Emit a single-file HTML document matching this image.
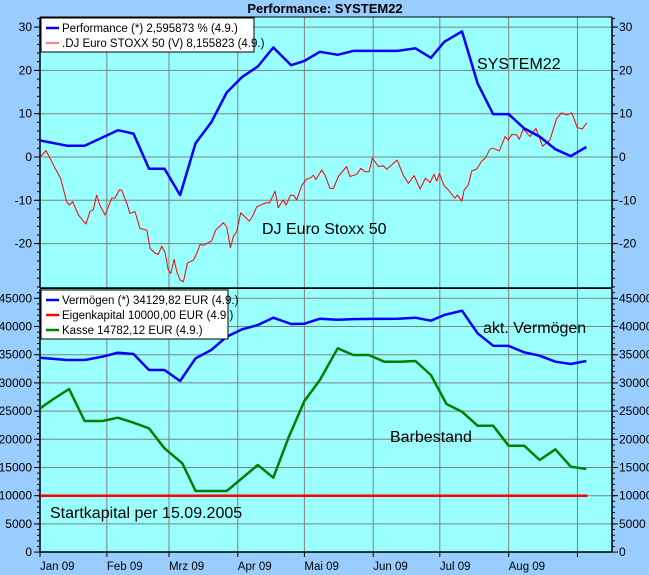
<!DOCTYPE html>
<html><head><meta charset="utf-8"><style>
html,body{margin:0;padding:0;background:#99ccff;}
svg{display:block;font-family:"Liberation Sans",Arial,sans-serif;}
</style></head><body>
<svg id="chart" width="649" height="575" viewBox="0 0 649 575" xmlns="http://www.w3.org/2000/svg">
<rect x="0" y="0" width="649" height="575" fill="#99ccff"/>
<text x="325" y="13" text-anchor="middle" font-size="13" font-weight="bold">Performance: SYSTEM22</text>
<g id="topPanel"></g>
<g id="botPanel"></g>
</svg>
<script>
const monthLabels=["Jan 09","Feb 09","Mrz 09","Apr 09","Mai 09","Jun 09","Jul 09","Aug 09"];
const monthDays=[0,31,59,90,120,151,181,212,243];
const perfDays=[1,13,21,29,36,43,50,57,64,71,78,85,92,99,106,114,120,127,135,142,151,162,170,177,183,191,198,205,212,219,226,233,240,247];
const perfValues=[3.8,2.6,2.6,4.5,6.2,5.4,-2.7,-2.7,-8.8,3.2,8,14.9,18.5,20.9,25.3,21.2,22.2,24.3,23.6,24.5,24.5,24.5,25.1,22.9,26.6,29,17,9.9,9.9,6.6,4.7,1.8,0.2,2.3];
const stoxxDays=[0.9,3.6,6.2,7.7,10.2,12.9,14.1,15.6,18.2,21.6,23.4,24.9,26.4,27.9,30.2,33.2,34.7,36.6,37.7,40,41.4,43.7,45.9,49,50.5,52.7,54.2,55.7,57.2,58.7,59.8,61.3,62.5,64,65.5,67.3,70,71.2,73,74.5,78.2,80,83.5,85,86.6,88,89.5,91.3,93.2,95.2,96.7,98.5,103,104.2,106.8,108.2,110.5,111.7,113.8,115.3,116.5,118.8,121,122.8,124,125.2,127.8,129.3,131.5,133,135.3,139,140.5,143.6,145.4,147.3,149.2,150.6,153.3,155.5,157.1,161.8,164.5,166.8,169.4,172.1,174.5,176.6,178.4,179.6,180.8,182.9,184.8,187.8,188.9,190.9,192,193.8,195.4,197.6,199.9,201.4,203.6,205.1,207.8,210.4,211.8,213.4,215.6,216.8,218.6,221.6,224.3,227.3,230.6,233.6,235.9,238.1,240.4,242.9,245.2,247.2];
const stoxxValues=[-0.1,1.5,-1.1,-2.6,-4.9,-10.3,-11.1,-10.3,-13.4,-15.5,-12.6,-12.2,-8.8,-11.1,-13.4,-9.5,-9.5,-7.6,-7.7,-10.7,-13,-12.6,-16.5,-16.9,-21.1,-22.2,-22.5,-20.6,-22,-26.1,-26.9,-23.6,-26.5,-28.4,-28.8,-24.5,-23.8,-22.6,-20.2,-20.4,-19.4,-16.9,-15.2,-16.1,-20.9,-18.4,-17.2,-12.9,-13.8,-14.8,-13.6,-11.5,-10.5,-10.7,-7.9,-11.7,-9.9,-11.1,-8.8,-8.9,-9.9,-6.6,-5.1,-4.8,-4.2,-5.2,-3,-4.2,-7.2,-7.3,-4.5,-2.2,-4.5,-4,-2.6,-3.4,-3.4,-0.2,-2.2,-2,-2.8,-0.7,-4.2,-6.1,-4.3,-7.4,-4.9,-5.9,-4,-5.6,-3.8,-6.6,-7.6,-9.5,-8.8,-10.2,-7.6,-6.5,-3.2,-2.8,-0.9,-0.3,1.8,2,1.4,4.7,3.9,5.2,5.1,4.1,6.5,4.7,6.6,2.5,3.9,8.9,10.2,9.7,10.2,6.8,6.5,7.9];
const vermDays=[1,13,21,29,36,43,50,57,64,71,78,85,92,99,106,114,120,127,135,142,151,162,170,177,183,191,198,205,212,219,226,233,240,247];
const vermValues=[34470,34060,34060,34640,35350,35120,32290,32290,30340,34360,35830,38190,39500,40260,41560,40440,40500,41380,41200,41320,41350,41380,41560,41030,42040,42800,38790,36600,36560,35430,34820,33760,33350,33880];
const kasseDays=[1,7,14,21,29,36,43,50,57,65,71,85,99,106,113,120,127,135,142,149,156,163,170,177,184,191,198,205,212,219,226,233,240,247];
const kasseValues=[25500,27150,28920,23250,23250,23830,22940,21950,18400,15740,10830,10830,15440,13190,20460,26790,30510,36130,34950,34950,33760,33760,33880,31400,26260,24890,22410,22410,18860,18860,16330,18230,15140,14730];
const eigenDays=[1,247.5];
const eigenValues=[10000,10000];
const topTicks=[-20,-10,0,10,20,30];
const botTicks=[0,5000,10000,15000,20000,25000,30000,35000,40000,45000];

const NS="http://www.w3.org/2000/svg";
const L=40,R=612;
function X(d){return 38+d*2.22;}
function YT(v){return 157-v*4.33;}
function YB(v){return 552.1-v*0.00564;}
function mk(tag,attrs,parent){const e=document.createElementNS(NS,tag);for(const k in attrs)e.setAttribute(k,attrs[k]);parent.appendChild(e);return e;}
const gTop=document.getElementById('topPanel'),gBot=document.getElementById('botPanel');
const svgEl=document.getElementById('chart');
const defs=mk('defs',{},svgEl);
const c1=mk('clipPath',{id:'c1'},defs);mk('rect',{x:L,y:17,width:R-L,height:271},c1);
const c2=mk('clipPath',{id:'c2'},defs);mk('rect',{x:L,y:289,width:R-L,height:263},c2);

function panel(g,y0,y1,ticks,Y,minorStep,minorMin,minorMax){
  let r=mk('rect',{x:L,y:y0,width:R-L,height:y1-y0,fill:'#99ffff'},g);
  
  
  for(let i=1;i<monthDays.length;i++){
    let l=mk('line',{x1:X(monthDays[i]),x2:X(monthDays[i]),y1:y0,y2:y1,stroke:'#808080','stroke-width':1},g);
    
    
  }
  ticks.forEach(t=>{
    const y=Y(t);
    let l=mk('line',{x1:L,x2:R,y1:y,y2:y,stroke:'#808080','stroke-width':1},g);
    
    
    mk('line',{x1:L-6,x2:L,y1:y,y2:y,stroke:'#000'},g);
    mk('line',{x1:R,x2:R+6,y1:y,y2:y,stroke:'#000'},g);
    let a=mk('text',{x:L-8,y:y+4,'text-anchor':'end','font-size':12},g);a.textContent=t;
    
    
    let b=mk('text',{x:R+7,y:y+4,'font-size':12},g);b.textContent=t;
    
    
  });
  for(let v=minorMin;v<=minorMax;v+=minorStep){
    const y=Y(v); if(y<y0||y>y1)continue;
    mk('line',{x1:L-3,x2:L,y1:y,y2:y,stroke:'#000'},g);
    mk('line',{x1:R,x2:R+3,y1:y,y2:y,stroke:'#000'},g);
  }
  mk('line',{x1:L,x2:L,y1:y0,y2:y1,stroke:'#000','stroke-width':1.5},g);
  mk('line',{x1:R,x2:R,y1:y0,y2:y1,stroke:'#000','stroke-width':1.5},g);
}
panel(gTop,17,288,topTicks,YT,2,-30,32);
panel(gBot,289,552,botTicks,YB,1000,0,47000);
mk('line',{x1:L,x2:R,y1:17,y2:17,stroke:'#000'},gTop);
mk('line',{x1:L,x2:R,y1:288.5,y2:288.5,stroke:'#000','stroke-width':2.5},gTop);
mk('line',{x1:L,x2:R,y1:552,y2:552,stroke:'#000','stroke-width':1.5},gBot);

function series(g,days,vals,Y,color,w,name,clip){
  const p=days.map((d,i)=>X(d).toFixed(1)+','+Y(vals[i]).toFixed(1)).join(' ');
  const e=mk('polyline',{points:p,fill:'none',stroke:color,'stroke-width':w,'stroke-linejoin':'round','clip-path':'url(#'+clip+')'},g);
  
  
}
series(gTop,stoxxDays,stoxxValues,YT,'#ff0000',1,'stoxx-line','c1');
series(gTop,perfDays,perfValues,YT,'#0000ff',2.5,'performance-line','c1');
series(gBot,eigenDays,eigenValues,YB,'#ff0000',2.5,'eigenkapital-line','c2');
series(gBot,kasseDays,kasseValues,YB,'#008000',2.5,'kasse-line','c2');
series(gBot,vermDays,vermValues,YB,'#0000ff',2.5,'vermoegen-line','c2');

for(let i=0;i<monthDays.length;i++){
  const x=X(monthDays[i])+(i==0?2:0);
  mk('line',{x1:x,x2:x,y1:552,y2:557,stroke:'#000'},gBot);
  if(i<monthLabels.length){
    let t=mk('text',{x:x,y:570,'font-size':11.5},gBot);t.textContent=monthLabels[i];
    
    
  }
}
function label(g,x,y,txt,name){let t=mk('text',{x:x,y:y,'font-size':16},g);t.textContent=txt;
  
  }
label(gTop,477,69,'SYSTEM22','system22-annotation');
label(gTop,262,234,'DJ Euro Stoxx 50','stoxx-annotation');
label(gBot,483,333,'akt. Vermögen','vermoegen-annotation');
label(gBot,390,442,'Barbestand','barbestand-annotation');
label(gBot,50,518,'Startkapital per 15.09.2005','startkapital-annotation');

function legend(g,x,y,w,items){
  const h=items.length*15+4;
  let r=mk('rect',{x:x,y:y,width:w,height:h,fill:'#fff',stroke:'#000'},g);
  
  
  items.forEach((it,i)=>{
    const yy=y+10+i*15;
    mk('line',{x1:x+5,x2:x+18,y1:yy,y2:yy,stroke:it[1],'stroke-width':it[2]},g);
    let t=mk('text',{x:x+21,y:yy+4,'font-size':11.5},g);t.textContent=it[0];
    
    
  });
}
legend(gTop,41,18,213,[["Performance (*) 2,595873 % (4.9.)","#0000ff",2.5],[".DJ Euro STOXX 50 (V) 8,155823 (4.9.)","#ff0000",1]]);
legend(gBot,41,290,187,[["Vermögen (*) 34129,82 EUR (4.9.)","#0000ff",2.5],["Eigenkapital 10000,00 EUR (4.9.)","#ff0000",2.5],["Kasse 14782,12 EUR (4.9.)","#008000",2.5]]);
</script>
</body></html>
